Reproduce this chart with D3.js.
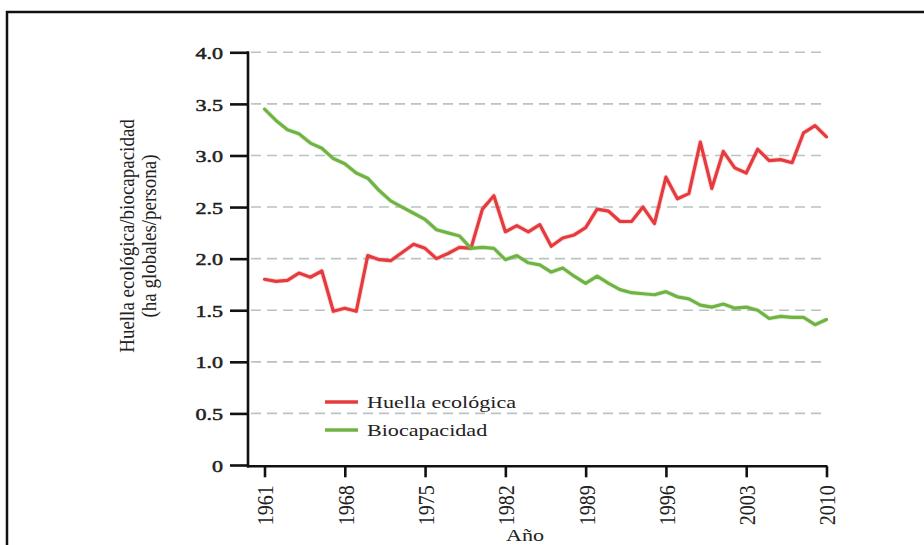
<!DOCTYPE html>
<html>
<head>
<meta charset="utf-8">
<script src="https://cdn.jsdelivr.net/npm/d3@7"></script>
<style>
  html, body { margin: 0; padding: 0; background: #ffffff; }
  svg { display: block; }
  text { font-family: "Liberation Serif", "Times New Roman", serif; fill: #222; }
</style>
</head>
<body>
<svg id="chart" width="924" height="545"></svg>
<script>
const years = [1961,1962,1963,1964,1965,1966,1967,1968,1969,1970,
  1971,1972,1973,1974,1975,1976,1977,1978,1979,1980,
  1981,1982,1983,1984,1985,1986,1987,1988,1989,1990,
  1991,1992,1993,1994,1995,1996,1997,1998,1999,2000,
  2001,2002,2003,2004,2005,2006,2007,2008,2009,2010];

const huella = [1.80,1.78,1.79,1.86,1.82,1.88,1.49,1.52,1.49,2.03,
  1.99,1.98,2.06,2.14,2.10,2.00,2.05,2.11,2.10,2.48,
  2.61,2.26,2.32,2.26,2.33,2.12,2.20,2.23,2.30,2.48,
  2.46,2.36,2.36,2.50,2.34,2.79,2.58,2.63,3.13,2.68,
  3.04,2.88,2.83,3.06,2.95,2.96,2.93,3.22,3.29,3.18];

const biocapacidad = [3.45,3.34,3.25,3.21,3.12,3.07,2.97,2.92,2.83,2.78,
  2.66,2.56,2.50,2.44,2.38,2.28,2.25,2.22,2.10,2.11,
  2.10,1.99,2.03,1.96,1.94,1.87,1.91,1.83,1.76,1.83,
  1.76,1.70,1.67,1.66,1.65,1.68,1.63,1.61,1.55,1.53,
  1.56,1.52,1.53,1.50,1.42,1.44,1.43,1.43,1.36,1.41];

const xTicks = [1961,1968,1975,1982,1989,1996,2003,2010];
const yTicks = [0,0.5,1.0,1.5,2.0,2.5,3.0,3.5,4.0];
const yTickLabels = ["0","0.5","1.0","1.5","2.0","2.5","3.0","3.5","4.0"];
const seriesNames = ["Huella ecológica","Biocapacidad"];
const seriesColors = ["#e63a3d","#6fb343"];
const xTitle = "Año";
const yTitle = ["Huella ecológica/biocapacidad","(ha globales/persona)"];

const svg = d3.select("#chart");

// outer frame (left and top edges visible)
svg.append("rect").attr("x",7).attr("y",12).attr("width",1000).attr("height",1000)
  .attr("fill","none").attr("stroke","#111").attr("stroke-width",2.5);

const axisX0 = 248;
const x = d3.scaleLinear().domain([1961,2010]).range([264.5,826.5]);
const y = d3.scaleLinear().domain([0,4]).range([465,52.3]);

// gridlines
svg.append("g").selectAll("line").data(yTicks.filter(d=>d>0)).join("line")
  .attr("x1",251).attr("x2",826).attr("y1",d=>y(d)).attr("y2",d=>y(d))
  .attr("stroke","#b7c4c3").attr("stroke-width",1.6).attr("stroke-dasharray","10,6");

// lines
const line = d3.line().x((d,i)=>x(years[i])).y(d=>y(d)).curve(d3.curveLinear);
[huella, biocapacidad].forEach((arr,k)=>{
  svg.append("path").datum(arr).attr("d",line).attr("fill","none")
    .attr("stroke",seriesColors[k]).attr("stroke-width",5).attr("stroke-opacity",0.18)
    .attr("stroke-linejoin","round");
  svg.append("path").datum(arr).attr("d",line).attr("fill","none")
    .attr("stroke",seriesColors[k]).attr("stroke-width",3.2)
    .attr("stroke-linejoin","round").attr("stroke-linecap","round");
});

// Y axis
const yAxis = d3.axisLeft(y).tickValues(yTicks).tickSize(18)
  .tickFormat((d,i)=>yTickLabels[i]);
const gy = svg.append("g").attr("transform",`translate(${axisX0},0)`).call(yAxis);
gy.select(".domain").remove();
gy.selectAll(".tick line").attr("stroke","#111").attr("stroke-width",2.6);
gy.selectAll(".tick text")
  .attr("x",null).attr("dy","0.36em")
  .attr("transform","translate(-25,0) scale(1.3,1)")
  .attr("text-anchor","end")
  .style("font-family","'Liberation Serif', serif").style("font-size","17px")
  .attr("fill","#222").attr("stroke","#222").attr("stroke-width",0.5);
svg.append("line").attr("x1",axisX0).attr("x2",axisX0).attr("y1",y(4)-1).attr("y2",467.5)
  .attr("stroke","#111").attr("stroke-width",2.6);

// X axis
const xAxis = d3.axisBottom(x).tickValues(xTicks).tickSize(11).tickFormat(d3.format("d"));
const gx = svg.append("g").attr("transform","translate(0,466.3)").call(xAxis);
gx.select(".domain").remove();
gx.selectAll(".tick line").attr("stroke","#111").attr("stroke-width",2.6);
gx.selectAll(".tick text")
  .attr("y",null).attr("dy","0.35em")
  .attr("transform","translate(0,19) scale(1.2,1) rotate(-90)")
  .attr("text-anchor","end")
  .style("font-family","'Liberation Serif', serif").style("font-size","20px")
  .attr("fill","#222");
svg.append("line").attr("x1",axisX0-1).attr("x2",x(2010)+1).attr("y1",466.3).attr("y2",466.3)
  .attr("stroke","#111").attr("stroke-width",2.6);

// axis titles
svg.append("text").attr("transform","translate(525,541) scale(1.3,1)")
  .attr("text-anchor","middle").style("font-size","17px").text(xTitle);
yTitle.forEach((t,i)=>{
  svg.append("text")
    .attr("transform",`translate(${134 + i*22},236) scale(1.15,1) rotate(-90)`)
    .attr("text-anchor","middle").style("font-size","19px").text(t);
});

// legend
const legY = [402,430];
seriesNames.forEach((name,i)=>{
  svg.append("line").attr("x1",325).attr("x2",358).attr("y1",legY[i]).attr("y2",legY[i])
    .attr("stroke",seriesColors[i]).attr("stroke-width",3.4);
  svg.append("text").attr("transform",`translate(367,${legY[i]+6}) scale(1.3,1)`)
    .style("font-size","17px").text(name);
});
</script>
</body>
</html>
